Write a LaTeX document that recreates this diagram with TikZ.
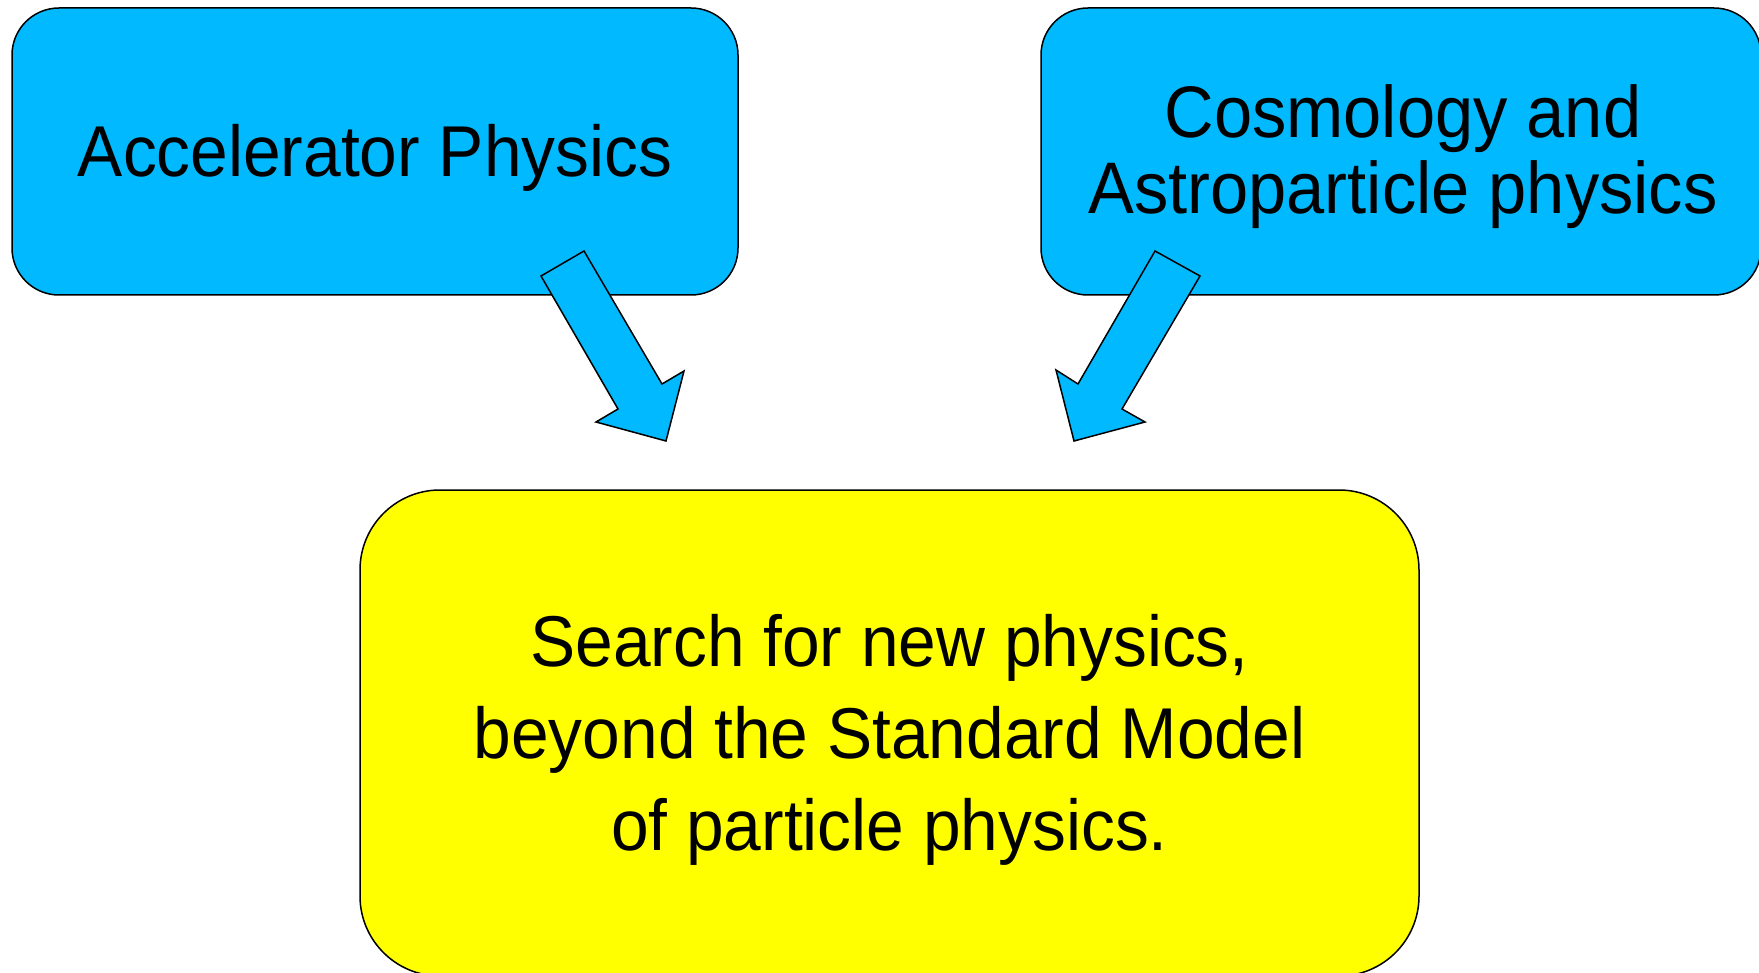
\documentclass[tikz,border=0pt]{standalone}
\usepackage{fontspec}
\setmainfont{Liberation Sans}[FakeStretch=0.94]
\definecolor{skyblue}{HTML}{00B9FF}
\definecolor{brightyellow}{HTML}{FFFF00}
\begin{document}
\begin{tikzpicture}[x=1pt,y=-1pt,
  box/.style={draw=black,line width=1.5pt,inner sep=0pt},
  bluebox/.style={box,fill=skyblue,rounded corners=47pt},
  yellowbox/.style={box,fill=brightyellow,rounded corners=80pt},
  boxtext/.style={align=center,inner sep=0pt,font=\fontsize{72}{76}\selectfont},
  bigtext/.style={boxtext,font=\fontsize{72}{92}\selectfont},
  blockarrow/.style={draw=black,line width=1.5pt,fill=skyblue,line join=miter}]
\useasboundingbox (0,0) rectangle (1759,973);
\clip (0,0) rectangle (1759,973);
\node[bluebox,minimum width=726pt,minimum height=287pt] (acc) at (375,151.5) {};
\node[bluebox,minimum width=720pt,minimum height=287pt] (cos) at (1401,151.5) {};
\node[yellowbox,minimum width=1059pt,minimum height=486pt] (bsm) at (889.5,733) {};
\node[boxtext] (acctext) at ([yshift=-6pt]acc.center) {Accelerator Physics};
\node[boxtext,font=\fontsize{73}{76}\selectfont] (costext) at ([xshift=2pt,yshift=-5pt]cos.center) {Cosmology and\\Astroparticle physics};
\node[bigtext] (bsmtext) at ([yshift=-7pt]bsm.center) {Search for new physics,\\beyond the Standard Model\\of particle physics.};
% block arrows
\draw[blockarrow] (541,276) -- (584,251) -- (662,384) -- (684,371) -- (666,441) -- (596,422) -- (618,409) -- cycle;
\draw[blockarrow] (1200,276) -- (1155,251) -- (1078,384) -- (1056,370) -- (1074,441) -- (1145,422) -- (1122,409) -- cycle;
\end{tikzpicture}
\end{document}
